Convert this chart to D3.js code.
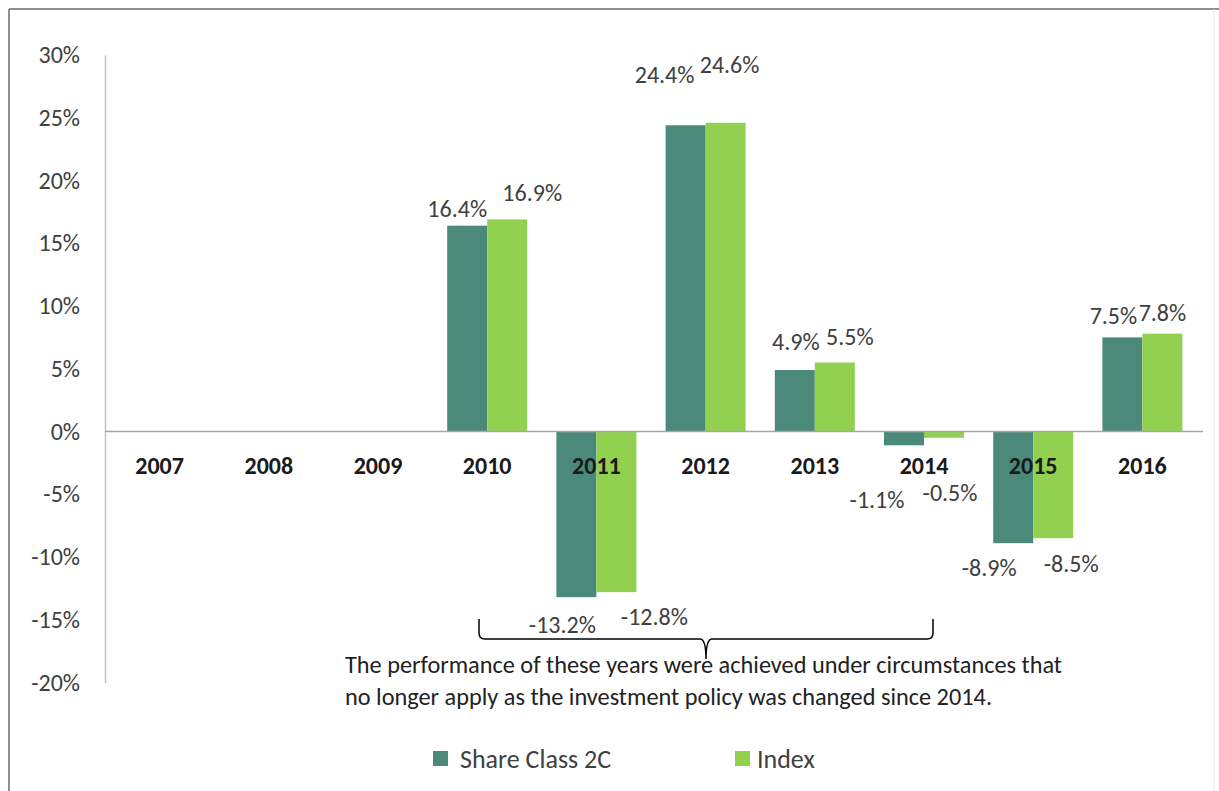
<!DOCTYPE html>
<html><head><meta charset="utf-8">
<script src="https://cdn.jsdelivr.net/npm/d3@7"></script>
<style>
html,body{margin:0;padding:0;background:#fff;}
svg{display:block;font-family:Carlito, Calibri, Lato, sans-serif;}
</style></head>
<body><svg id="chart" width="1219" height="791"></svg>
<script>
const years = ["2007","2008","2009","2010","2011","2012","2013","2014","2015","2016"];
const seriesNames = ["Share Class 2C","Index"];
const shareClass = [null,null,null,16.4,-13.2,24.4,4.9,-1.1,-8.9,7.5];
const indexValues = [null,null,null,16.9,-12.8,24.6,5.5,-0.5,-8.5,7.8];
const yTicks = [30,25,20,15,10,5,0,-5,-10,-15,-20];
const noteLines = ["The performance of these years were achieved under circumstances that",
                   "no longer apply as the investment policy was changed since 2014."];
// manual label nudges (dx, dy) as placed in the original chart
const shareLabelNudge = [null,null,null,[-10,-3],[-14,13],[-21,-37],[1,-15],[-27,40],[-24,10],[-9,-8]];
const indexLabelNudge = [null,null,null,[25,-13],[38,10],[4,-44],[15,-12],[6,41],[18,11],[0,-7]];

const colors = {"Share Class 2C":"#4b8a7b","Index":"#92d050"};
const svg = d3.select("#chart");

// frame
svg.append("line").attr("x1",9).attr("x2",1219).attr("y1",9).attr("y2",9).attr("stroke","#8f8f8f").attr("stroke-width",2);
svg.append("line").attr("x1",9).attr("x2",9).attr("y1",9).attr("y2",791).attr("stroke","#8f8f8f").attr("stroke-width",2);
svg.append("line").attr("x1",1214).attr("x2",1214).attr("y1",9).attr("y2",791).attr("stroke","#e6e6e6").attr("stroke-width",1);

const y = d3.scaleLinear().domain([-20,30]).range([682.5,55]);
const x0 = d3.scaleBand().domain(years).range([105,1197]);
const x1 = d3.scaleBand().domain(seriesNames).range([0,x0.bandwidth()]).paddingOuter(0.365);

// y axis
const yAxis = d3.axisLeft(y).tickValues(yTicks).tickSize(0).tickPadding(25).tickFormat(d=>d+"%");
const gy = svg.append("g").attr("transform","translate(105,0)").call(yAxis);
gy.select(".domain").attr("stroke","#c4c4c4").attr("stroke-width",1.5);
gy.selectAll("text").attr("font-size",24).attr("fill","#404040").attr("font-family","Carlito, Calibri, Lato, sans-serif");

// bars
const data = [];
years.forEach((yr,i)=>{
  data.push({yr,i,s:"Share Class 2C",v:shareClass[i]});
  data.push({yr,i,s:"Index",v:indexValues[i]});
});
const valid = data.filter(d=>d.v!==null);
svg.append("g").selectAll("rect").data(valid).join("rect")
  .attr("x",d=>x0(d.yr)+x1(d.s))
  .attr("width",x1.bandwidth())
  .attr("y",d=>y(Math.max(0,d.v)))
  .attr("height",d=>Math.abs(y(d.v)-y(0)))
  .attr("fill",d=>colors[d.s]);

// zero line
svg.append("line").attr("x1",105).attr("x2",1203).attr("y1",y(0)).attr("y2",y(0)).attr("stroke","#a6a6a6").attr("stroke-width",1.5);

// category labels
svg.append("g").selectAll("text").data(years).join("text")
  .attr("x",d=>x0(d)+x0.bandwidth()/2)
  .attr("y",y(0)+34)
  .attr("text-anchor","middle").attr("dominant-baseline","central")
  .attr("font-size",24).attr("font-weight","bold").attr("fill","#1a1a1a")
  .text(d=>d);

// value labels
const nudge = d => d.s==="Index" ? indexLabelNudge[d.i] : shareLabelNudge[d.i];
svg.append("g").selectAll("text").data(valid).join("text")
  .attr("x",d=>x0(d.yr)+x1(d.s)+x1.bandwidth()/2+nudge(d)[0])
  .attr("y",d=>(d.v>=0 ? y(d.v)-14 : y(d.v)+14)+nudge(d)[1])
  .attr("text-anchor","middle").attr("dominant-baseline","central")
  .attr("font-size",24).attr("fill","#404040")
  .text(d=>d.v.toFixed(1)+"%");

// brace
const bx1=479, bx2=933, bm=706, bt=619, bb=639, btip=659;
const brace = `M${bx1},${bt} L${bx1},${bb-6} Q${bx1},${bb} ${bx1+6},${bb} L${bm-6},${bb} Q${bm},${bb} ${bm},${btip}
 Q${bm},${bb} ${bm+6},${bb} L${bx2-6},${bb} Q${bx2},${bb} ${bx2},${bb-6} L${bx2},${bt}`;
svg.append("path").attr("d",brace).attr("fill","none").attr("stroke","#000").attr("stroke-width",1.5);

// note
svg.append("g").selectAll("text").data(noteLines).join("text")
  .attr("x",345).attr("y",(d,i)=>665+i*32)
  .attr("dominant-baseline","central")
  .attr("font-size",24.3).attr("fill","#222")
  .text(d=>d);

// legend
const legX = [433,735];
const lg = svg.append("g").selectAll("g").data(seriesNames).join("g")
  .attr("transform",(d,i)=>`translate(${legX[i]},751)`);
lg.append("rect").attr("width",15).attr("height",15).attr("fill",d=>colors[d]);
lg.append("text").attr("x",(d,i)=>i===0?27:22).attr("y",7.5).attr("dominant-baseline","central")
  .attr("font-size",26).attr("fill","#404040").text(d=>d);
</script></body></html>
